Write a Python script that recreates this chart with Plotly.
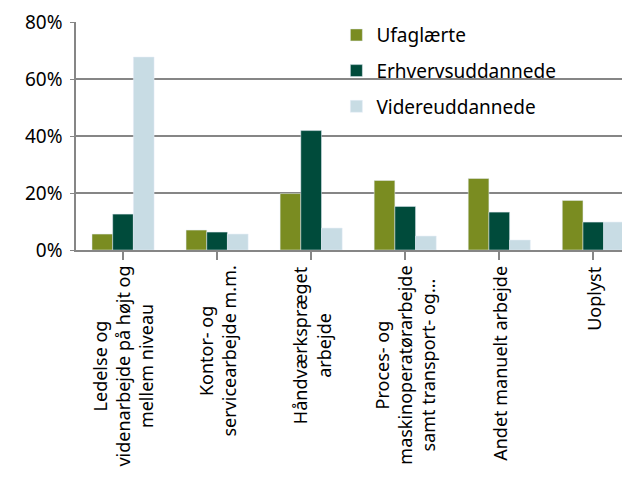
import plotly.graph_objects as go

categories = [
    "Ledelse og<br>videnarbejde på højt og<br>mellem niveau",
    "Kontor- og<br>servicearbejde m.m.",
    "Håndværkspræget<br>arbejde",
    "Proces- og<br>maskinoperatørarbejde<br>samt transport- og...",
    "Andet manuelt arbejde",
    "Uoplyst",
]
ufaglaerte = [5.6, 7.0, 19.8, 24.4, 25.1, 17.4]
erhvervsuddannede = [12.6, 6.3, 41.9, 15.3, 13.3, 9.8]
videreuddannede = [67.7, 5.6, 7.7, 4.9, 3.5, 9.8]
y_ticks = [0, 20, 40, 60, 80]
y_ticktext = ["0%", "20%", "40%", "60%", "80%"]

font = "Noto Sans"
grid = "#868686"
xs = list(range(len(categories)))

fig = go.Figure()
fig.add_trace(go.Bar(x=xs, y=ufaglaerte, name="Ufaglærte",
                     marker_color="#7a8c21", legendgroup="a"))
fig.add_trace(go.Bar(x=xs, y=erhvervsuddannede, name="Erhvervsuddannede",
                     marker_color="#004b3b", legendgroup="b"))
fig.add_trace(go.Bar(x=xs, y=videreuddannede, name="Videreuddannede",
                     marker_color="#c8dce4", legendgroup="c"))

# category labels, rotated and centre-aligned like the original
for i, label in enumerate(categories):
    fig.add_annotation(x=i, y=0, xref="x", yref="paper", yanchor="top",
                       yshift=-14, text=label, textangle=-90, showarrow=False,
                       align="center", font=dict(family=font, size=18, color="#000000"))

# page body has an 8px margin, so the figure is a bit smaller than the window
fig.update_layout(
    width=622, height=489,
    margin=dict(l=68, r=0, t=14, b=247),
    plot_bgcolor="white", paper_bgcolor="white",
    barmode="group", bargap=0.34, bargroupgap=0,
    font=dict(family=font, size=18, color="#000000"),
    legend=dict(x=0.47, y=1.026, xanchor="left", yanchor="top",
                font=dict(family=font, size=19), tracegroupgap=8,
                bgcolor="rgba(0,0,0,0)"),
    xaxis=dict(range=[-0.5, 5.39], tickmode="array", tickvals=xs,
               showticklabels=False, ticks="outside", tickson="boundaries",
               ticklen=8, tickcolor=grid, tickwidth=1.5,
               showline=True, linecolor=grid, linewidth=1.5, showgrid=False),
    yaxis=dict(range=[0, 80], tickmode="array", tickvals=y_ticks,
               ticktext=y_ticktext, showgrid=True, gridcolor=grid, gridwidth=1.8,
               showline=True, linecolor=grid, linewidth=1.5, ticks="outside",
               ticklen=4, tickcolor=grid, zeroline=False, ticklabelstandoff=4,
               tickfont=dict(family=font, size=19)),
)

fig.write_html("out.html")
